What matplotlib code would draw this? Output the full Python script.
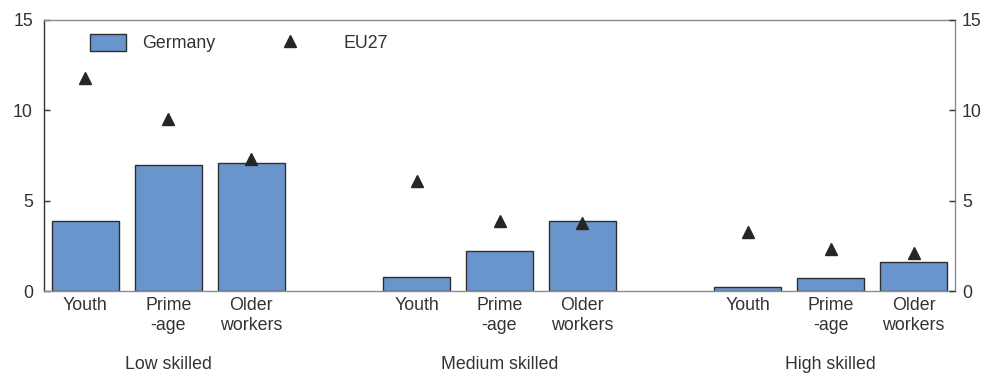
import matplotlib.pyplot as plt
from matplotlib.patches import Patch
from matplotlib.lines import Line2D

plt.rcParams['font.family'] = ['Liberation Sans', 'DejaVu Sans']

# Data
groups = ["Low skilled", "Medium skilled", "High skilled"]
age_labels = ["Youth", "Prime\n-age", "Older\nworkers"]
germany = [3.9, 7.0, 7.1, 0.8, 2.2, 3.9, 0.2, 0.7, 1.6]
eu27 = [11.8, 9.5, 7.3, 6.1, 3.9, 3.75, 3.25, 2.3, 2.1]
y_ticks = [0, 5, 10, 15]

bar_color = "#6a95cc"
edge_color = "#2e2e2e"
text_color = "#333333"
fs = 12.8

# Bars sit in groups of three with an empty slot between groups
positions = []
for g in range(len(groups)):
    for k in range(len(age_labels)):
        positions.append(g * (len(age_labels) + 1) + k)
tick_labels = age_labels * len(groups)
group_centers = [g * (len(age_labels) + 1) + (len(age_labels) - 1) / 2 for g in range(len(groups))]

fig = plt.figure(figsize=(9.9, 3.74), dpi=100)
ax = fig.add_axes([44 / 990, 83 / 374, 911 / 990, 271 / 374])

ax.bar(positions, germany, width=0.81, color=bar_color, edgecolor=edge_color,
       linewidth=1.0, zorder=2)
ax.plot(positions, eu27, linestyle="none", marker="^", markersize=8.5,
        color="#262626", zorder=3)

ax.set_xlim(-0.5, positions[-1] + 0.5)
ax.set_ylim(0, 15)
ax.set_yticks(y_ticks)
ax.set_xticks(positions)
ax.set_xticklabels(tick_labels, fontsize=fs, color=text_color, linespacing=1.3)
ax.tick_params(axis="x", length=0, pad=4)
ax.tick_params(axis="y", direction="in", length=4, width=1, color=text_color,
               labelsize=fs, labelcolor=text_color, pad=8)

# Mirror the value axis on the right
ax2 = ax.twinx()
ax2.set_ylim(ax.get_ylim())
ax2.set_yticks(y_ticks)
ax2.tick_params(axis="y", direction="in", length=4, width=1, color=text_color,
                labelsize=fs, labelcolor=text_color, pad=5)
for s in ax2.spines.values():
    s.set_visible(False)

for name, s in ax.spines.items():
    s.set_linewidth(1.0)
    s.set_color("#8c8c8c")
ax.spines["left"].set_color("#333333")

for x, label in zip(group_centers, groups):
    ax.annotate(label, xy=(x, -0.273), xycoords=("data", "axes fraction"),
                ha="center", va="center", fontsize=fs, color=text_color)

# Legend entries placed as two separate groups
leg1 = ax.legend(handles=[Patch(facecolor=bar_color, edgecolor=edge_color, linewidth=1.0, label="Germany")],
                 loc="center left", bbox_to_anchor=(46 / 911, 1 - 23 / 271),
                 frameon=False, fontsize=fs, handlelength=2.0, handleheight=1.1,
                 handletextpad=0.95, borderaxespad=0, borderpad=0, labelcolor=text_color)
ax.add_artist(leg1)
ax.legend(handles=[Line2D([], [], linestyle="none", marker="^", markersize=8.5,
                          color="#262626", label="EU27")],
          loc="center left", bbox_to_anchor=(228 / 911, 1 - 23 / 271),
          frameon=False, fontsize=fs, handlelength=2.0, handletextpad=2.0,
          numpoints=1, borderaxespad=0, borderpad=0, labelcolor=text_color)

fig.savefig("out.png", dpi=100)
